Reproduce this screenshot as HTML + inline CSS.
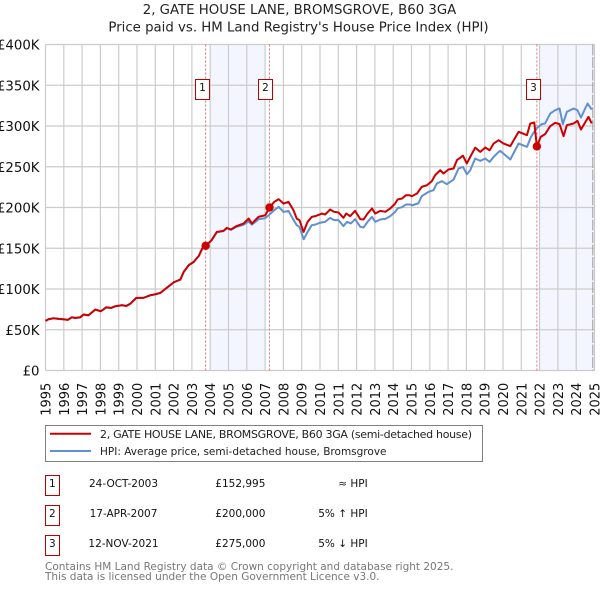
<!DOCTYPE html>
<html lang="en">
<head>
<meta charset="utf-8">
<title>2, GATE HOUSE LANE, BROMSGROVE, B60 3GA</title>
<style>
html,body{margin:0;padding:0;background:#fff;width:600px;height:590px;overflow:hidden}
svg{display:block;font-family:"DejaVu Sans",sans-serif}
</style>
</head>
<body>
<svg id="chart" xmlns="http://www.w3.org/2000/svg" width="600" height="590" viewBox="0 0 600 590">
  <text x="299.5" y="14" text-anchor="middle" font-size="13.3" fill="#222">2, GATE HOUSE LANE, BROMSGROVE, B60 3GA</text>
  <text x="298.5" y="31.5" text-anchor="middle" font-size="13.3" fill="#222">Price paid vs. HM Land Registry's House Price Index (HPI)</text>
  <g id="plot"></g>

  <g>
    <rect x="45.5" y="425.5" width="437" height="36" fill="#fff" stroke="#808080" stroke-width="1"/>
    <line x1="50" x2="91" y1="433.7" y2="433.7" stroke="#cc0000" stroke-width="2"/>
    <text x="100" y="438" font-size="11" textLength="372" lengthAdjust="spacing" fill="#222">2, GATE HOUSE LANE, BROMSGROVE, B60 3GA (semi-detached house)</text>
    <line x1="50" x2="91" y1="451" y2="451" stroke="#6090d0" stroke-width="2"/>
    <text x="100" y="455" font-size="10.5" fill="#222">HPI: Average price, semi-detached house, Bromsgrove</text>
  </g>

  <g font-size="10.5" fill="#111">
    <rect x="45.5" y="475.5" width="14" height="20" fill="#fff" stroke="#bb0000" stroke-width="1"/>
    <text x="52.3" y="487" text-anchor="middle">1</text>
    <text x="123.5" y="487" text-anchor="middle">24-OCT-2003</text>
    <text x="215.3" y="487">£152,995</text>
    <text x="367.7" y="487" text-anchor="end">≈ HPI</text>

    <rect x="45.5" y="505.5" width="14" height="20" fill="#fff" stroke="#bb0000" stroke-width="1"/>
    <text x="52.3" y="517" text-anchor="middle">2</text>
    <text x="123.5" y="517" text-anchor="middle">17-APR-2007</text>
    <text x="215.3" y="517">£200,000</text>
    <text x="367.7" y="517" text-anchor="end">5% ↑ HPI</text>

    <rect x="45.5" y="535.5" width="14" height="20" fill="#fff" stroke="#bb0000" stroke-width="1"/>
    <text x="52.3" y="547" text-anchor="middle">3</text>
    <text x="123.5" y="547" text-anchor="middle">12-NOV-2021</text>
    <text x="215.3" y="547">£275,000</text>
    <text x="367.7" y="547" text-anchor="end">5% ↓ HPI</text>
  </g>

  <text x="45" y="570" font-size="10.5" fill="#777">Contains HM Land Registry data © Crown copyright and database right 2025.</text>
  <text x="45" y="580" font-size="10.5" fill="#777">This data is licensed under the Open Government Licence v3.0.</text>
</svg>
<script>
const yearTicks = [1995,1996,1997,1998,1999,2000,2001,2002,2003,2004,2005,2006,2007,2008,2009,2010,2011,2012,2013,2014,2015,2016,2017,2018,2019,2020,2021,2022,2023,2024,2025];
const valueTicks = [0,50,100,150,200,250,300,350,400];
const valueTickLabels = ["£0","£50K","£100K","£150K","£200K","£250K","£300K","£350K","£400K"];
const shadedStarts = [2004,2022];
const shadedEnds = [2007,2025];
const saleDates = [2003.75,2007.24,2021.85];
const salePrices = [152.995,200,275];
const saleLabels = ["1","2","3"];

const propertyDates = [1995,1995.16,1995.44,1995.71,1995.99,1996.22,1996.44,1996.62,1996.9,1997.08,1997.35,1997.72,1998.03,1998.32,1998.58,1998.81,1999.18,1999.42,1999.64,1999.96,2000.36,2000.73,2001,2001.28,2001.64,2002.01,2002.37,2002.55,2002.83,2003.1,2003.38,2003.56,2003.75,2004.08,2004.36,2004.72,2004.91,2005.13,2005.42,2005.82,2006.1,2006.28,2006.64,2007.01,2007.24,2007.5,2007.74,2008.01,2008.28,2008.55,2008.73,2008.88,2009.1,2009.32,2009.55,2009.74,2009.97,2010.1,2010.28,2010.55,2010.77,2011.01,2011.28,2011.43,2011.65,2011.92,2012.2,2012.38,2012.6,2012.84,2013.02,2013.29,2013.57,2013.84,2014.11,2014.24,2014.48,2014.7,2014.88,2015.03,2015.3,2015.56,2015.84,2016.11,2016.29,2016.57,2016.75,2017.02,2017.3,2017.48,2017.81,2018.02,2018.21,2018.48,2018.76,2019.03,2019.27,2019.49,2019.76,2020.03,2020.4,2020.85,2021.31,2021.49,2021.71,2021.85,2022.06,2022.3,2022.58,2022.85,2023.09,2023.31,2023.49,2023.86,2024.07,2024.26,2024.4,2024.67,2024.85];
const propertyValues = [60.9,62.9,64.2,63.3,62.9,62.1,65.4,64.6,65.4,68.7,67.8,74.8,72.7,77.6,76.8,78.9,80.1,79.3,82.1,89.1,89.1,92.4,93.6,95.2,101.8,108.3,111.6,121,129.2,133.3,140.6,149.6,152.995,159.9,170,171.3,175,173,177,180.3,186.4,180.3,188.5,190.5,200,206.9,210.2,204.8,206.9,196.7,186.4,184.4,170,182.3,188.5,189.4,191.3,192.6,191.4,197.5,194.7,193.9,187.3,192.6,189.4,195.9,185.7,185.3,192.6,198.8,192.6,195.9,194.7,198.8,204.9,209.8,211,215.1,215.1,213.9,217.2,225.3,227.3,232.3,239.6,245.8,241.7,246.6,247.8,258,263.6,254,262.1,273.4,268.3,273.6,270.3,278.5,282.6,278.5,275.3,292.8,288.8,303.1,304.3,275,286.7,290,299.8,303.9,302.3,287.5,301,303.1,306.3,295.7,301,311.2,303.1];

const hpiDates = [1995,1995.16,1995.44,1995.71,1995.99,1996.22,1996.44,1996.62,1996.9,1997.08,1997.35,1997.72,1998.03,1998.32,1998.58,1998.81,1999.18,1999.42,1999.64,1999.96,2000.36,2000.73,2001,2001.28,2001.64,2002.01,2002.37,2002.55,2002.83,2003.1,2003.38,2003.56,2003.75,2004.08,2004.36,2004.72,2004.91,2005.13,2005.42,2005.82,2006.1,2006.28,2006.64,2007.01,2007.24,2007.5,2007.74,2008.01,2008.28,2008.51,2008.73,2008.88,2009.11,2009.32,2009.55,2009.74,2009.97,2010.28,2010.55,2010.77,2011.01,2011.28,2011.47,2011.69,2011.92,2012.2,2012.38,2012.6,2012.84,2013.02,2013.29,2013.57,2013.84,2014.11,2014.24,2014.48,2014.7,2014.93,2015.03,2015.38,2015.56,2015.93,2016.2,2016.38,2016.66,2016.93,2017.3,2017.57,2017.81,2018.03,2018.21,2018.48,2018.76,2019.03,2019.27,2019.49,2019.76,2019.85,2020.4,2020.85,2021.31,2021.53,2021.82,2022.12,2022.3,2022.58,2022.85,2023.09,2023.27,2023.49,2023.86,2024.07,2024.26,2024.62,2024.85];
const hpiValues = [60.7,62.7,64,63.4,62.8,62.2,65.2,64.3,65,68.5,67.6,74.5,72.9,77.3,76.6,78.6,80.3,79,81.8,88.8,89.3,92.1,93.4,95.4,101.5,108,111.9,120.6,129.6,133,141,149.2,152.5,160.2,169.6,171,174.4,172.6,176.2,178.8,183,179,185.5,187,191.3,196.7,200.8,194.6,195.8,186.4,178.3,176.2,161,170,178.3,179,181.1,182.4,187.3,184.5,184.5,177.1,182.4,180.4,185.7,176.3,175.5,182.4,188.5,182.4,185.3,186.1,189.4,194.7,199,200.4,203.7,203.7,202.6,205.2,214,219.2,221.2,229.4,232.3,228.6,234.3,247.8,249.8,240.8,245.8,260.1,257.2,260.1,256,262.1,268.2,269.5,258.9,278.5,274.4,286.7,296.9,302.3,303.1,315.3,319.4,321.5,302.3,317.4,321.5,319.4,310.4,327.6,320.2];

const NS = "http://www.w3.org/2000/svg";
const plot = document.getElementById("plot");
const xScale = function (year) { return 45.5 + (year - 1995) * 18.3; };
const yScale = function (value) { return 370.5 - value * 0.815; };

function make(tag, attrs, text) {
  const el = document.createElementNS(NS, tag);
  for (const key in attrs) { el.setAttribute(key, attrs[key]); }
  if (text !== undefined) { el.textContent = text; }
  plot.appendChild(el);
  return el;
}
function linePath(dates, values) {
  return dates.map(function (d, i) {
    return (i ? "L" : "M") + xScale(d).toFixed(2) + " " + yScale(values[i]).toFixed(2);
  }).join(" ");
}

shadedStarts.forEach(function (start, i) {
  const el = make("rect", {x: xScale(start), y: yScale(400), width: xScale(shadedEnds[i]) - xScale(start), height: yScale(0) - yScale(400), fill: "#f3f6fe"});
  
  
});

yearTicks.forEach(function (year) {
  const el = make("line", {x1: xScale(year), x2: xScale(year), y1: yScale(400), y2: yScale(0), stroke: "#cccccc", "stroke-width": 1.2});
  
  
  const label = make("text", {x: 0, y: 0, "font-size": 13, fill: "#111", "text-anchor": "end", transform: "translate(" + (xScale(year) + 5) + " 382.7) rotate(-90)"}, String(year));
  
  
});

valueTicks.forEach(function (value, i) {
  const el = make("line", {x1: xScale(1995), x2: xScale(2025), y1: yScale(value), y2: yScale(value), stroke: "#cccccc", "stroke-width": 1.2});
  
  
  const label = make("text", {x: 39.5, y: yScale(value) + 5, "font-size": 13.3, fill: "#111", "text-anchor": "end"}, valueTickLabels[i]);
  
  
});

const edge = make("line", {x1: 592.8, x2: 592.8, y1: yScale(400), y2: yScale(0), stroke: "#999999", "stroke-width": 1, "stroke-dasharray": "11 1.5"});



saleDates.forEach(function (date) {
  const el = make("line", {x1: xScale(date), x2: xScale(date), y1: yScale(400), y2: yScale(0), stroke: "#f06a7a", "stroke-width": 1, "stroke-dasharray": "2 2"});
  
  
});

const hpiLine = make("path", {d: linePath(hpiDates, hpiValues), fill: "none", stroke: "#6090d0", "stroke-width": 2, "stroke-linejoin": "round"});



const propertyLine = make("path", {d: linePath(propertyDates, propertyValues), fill: "none", stroke: "#cc0000", "stroke-width": 2, "stroke-linejoin": "round"});



saleDates.forEach(function (date, i) {
  const dot = make("circle", {cx: xScale(date), cy: yScale(salePrices[i]), r: 4.2, fill: "#cc0000"});
  
  
  const left = Math.floor(xScale(date) - 10.5);
  const box = make("rect", {x: left + 0.5, y: 79.5, width: 14, height: 20, fill: "#fff", stroke: "#bb0000", "stroke-width": 1});
  
  
  const num = make("text", {x: left + 7.5, y: 91, "font-size": 10.5, fill: "#111", "text-anchor": "middle"}, saleLabels[i]);
  
  
});
</script>
</body>
</html>
